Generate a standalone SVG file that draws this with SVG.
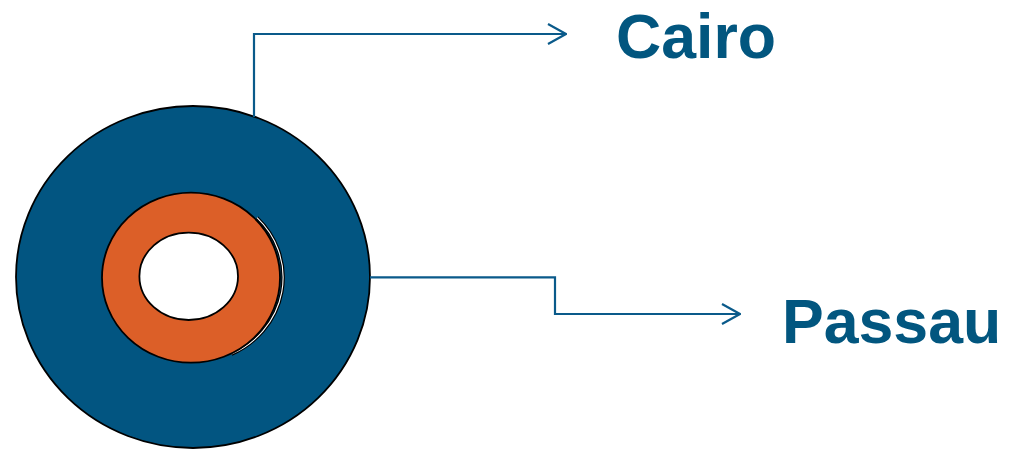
<svg xmlns="http://www.w3.org/2000/svg" width="1018" height="450" viewBox="0 0 1018 450">
<style>
.conn{fill:none;stroke:#0a5a8a;stroke-width:2.2}
.lbl{font-family:"Liberation Sans",Arial,sans-serif;font-weight:bold;font-size:62.6px;fill:#02567f}
</style>
<defs>
<marker id="arr" viewBox="0 0 20 22" refX="19" refY="11" markerWidth="20" markerHeight="22" markerUnits="userSpaceOnUse" orient="auto">
<path d="M1,1 L19,11 L1,21" fill="none" stroke="#0a5a8a" stroke-width="2.2"/>
</marker>
</defs>
<rect width="1018" height="450" fill="#fff"/>
<g id="outer-ring">
<ellipse cx="193" cy="277" rx="177" ry="171" fill="#025581" stroke="#000" stroke-width="1.8"/>
</g>
<g id="middle-ring">
<path d="M257,217.7 A89,84.5 0 0 1 231.6,354.1" fill="none" stroke="#000" stroke-width="3.5"/>
<path d="M257,217.7 A89,84.5 0 0 1 231.6,354.1" fill="none" stroke="#fff" stroke-width="1.1"/>
<ellipse cx="191" cy="277.7" rx="89" ry="85" fill="#dc5f28" stroke="#000" stroke-width="1.8"/>
</g>
<g id="core">
<ellipse cx="188.7" cy="276.3" rx="49.3" ry="43.7" fill="#fff" stroke="#000" stroke-width="1.8"/>
</g>
<g id="connectors">
<path class="conn" d="M254,117 V34 H566" marker-end="url(#arr)"/>
<path class="conn" d="M370,277.3 H555 V314 H740" marker-end="url(#arr)"/>
</g>
<g id="label-cairo"><text class="lbl" x="616" y="58">Cairo</text></g>
<g id="label-passau"><text class="lbl" x="782" y="343">Passau</text></g>
</svg>
